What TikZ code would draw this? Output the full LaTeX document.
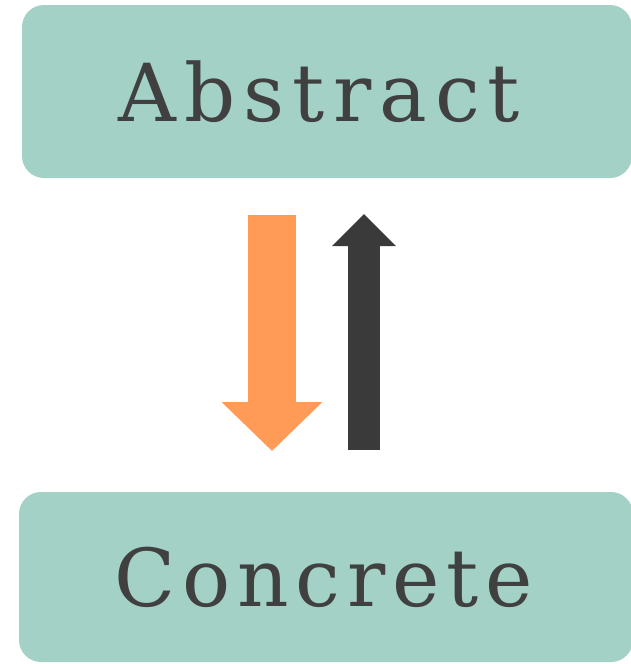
\documentclass[tikz,border=0pt]{standalone}
\usepackage{fontspec}
\setmainfont{DejaVu Serif}
\newfontfamily\widelabel[LetterSpace=10]{DejaVu Serif}
\newfontfamily\narrowlabel[LetterSpace=8.5]{DejaVu Serif}
\usetikzlibrary{arrows.meta}
\definecolor{boxteal}{HTML}{A3D1C6}
\definecolor{downorange}{HTML}{FF9A57}
\definecolor{updark}{HTML}{3A3A3A}
\definecolor{labelgray}{HTML}{404040}
\tikzset{
  levelbox/.style={fill=boxteal, draw=none, rounded corners=11pt,
    font=\fontsize{40}{40}\selectfont, text=labelgray, inner sep=0pt},
  downarrow/.style={draw=downorange, line width=24pt,
    -{Triangle[width=49pt,length=24.5pt,fill=downorange]}},
  uparrow/.style={draw=updark, line width=16pt,
    -{Triangle[width=31pt,length=16pt,fill=updark]}}
}
\begin{document}
\begin{tikzpicture}[x=0.5pt,y=-0.5pt]
  \useasboundingbox (0,0) rectangle (631,664);
  % the two levels
  \node[levelbox, minimum width=305pt, minimum height=86.5pt] (abs) at (327,91.5)
    {\widelabel Abstract\kern7.5pt};
  \node[levelbox, minimum width=307pt, minimum height=85pt] (con) at (326,577)
    {\narrowlabel Concrete\kern2.5pt};
  % arrow end points between the boxes
  \coordinate (dtop) at (272,215);
  \coordinate (dtip) at (272,451);
  \coordinate (ubot) at (364,450);
  \coordinate (utip) at (364,214);
  \draw[downarrow] (dtop) -- (dtip);
  \draw[uparrow] (ubot) -- (utip);
\end{tikzpicture}
\end{document}
